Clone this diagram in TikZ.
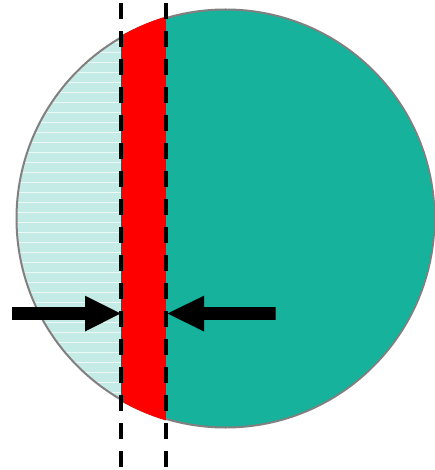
\documentclass[tikz,border=0pt]{standalone}
\definecolor{tealfill}{HTML}{16B29B}
\definecolor{hatchbg}{HTML}{C4EBE5}
\definecolor{hatchline}{HTML}{EEF9F7}
\definecolor{rimgray}{HTML}{808080}
\tikzset{
  rim/.style={draw=rimgray, line width=2pt},
  guide/.style={black, line width=3.6pt, dash pattern=on 16pt off 12pt, dash phase=25pt},
  arrowbody/.style={fill=black}
}
\begin{document}
\begin{tikzpicture}[x=1pt,y=-1pt]
\useasboundingbox (0,0) rectangle (434,470);
\coordinate (c) at (225.5,218.5);
% teal disc
\fill[tealfill] (c) circle[radius=209pt];
% hatched left part
\begin{scope}
  \clip (c) circle[radius=209pt];
  \fill[hatchbg] (0,0) rectangle (121,470);
  \foreach \y in {0,10,...,470} {
    \draw[hatchline, line width=0.9pt] (0,\y+2) -- (121,\y+2);
  }
\end{scope}
% outline
\draw[rim] (c) circle[radius=209pt];
% red band
\begin{scope}
  \clip (c) circle[radius=210.5pt];
  \fill[red] (121,0) rectangle (166,470);
\end{scope}
% dashed guides
\coordinate (l1) at (121,0); \coordinate (l2) at (121,470);
\coordinate (r1) at (166,0); \coordinate (r2) at (166,470);
\draw[guide] (l1) -- (l2);
\draw[guide] (r1) -- (r2);
% arrows
\fill[arrowbody] (12,307.2) -- (85,307.2) -- (85,295.7) -- (120.5,313.5) -- (85,331.5) -- (85,319.8) -- (12,319.8) -- cycle;
\fill[arrowbody] (275.5,307.2) -- (204,307.2) -- (204,295.7) -- (167.5,313.5) -- (204,331.5) -- (204,319.8) -- (275.5,319.8) -- cycle;
\end{tikzpicture}
\end{document}
